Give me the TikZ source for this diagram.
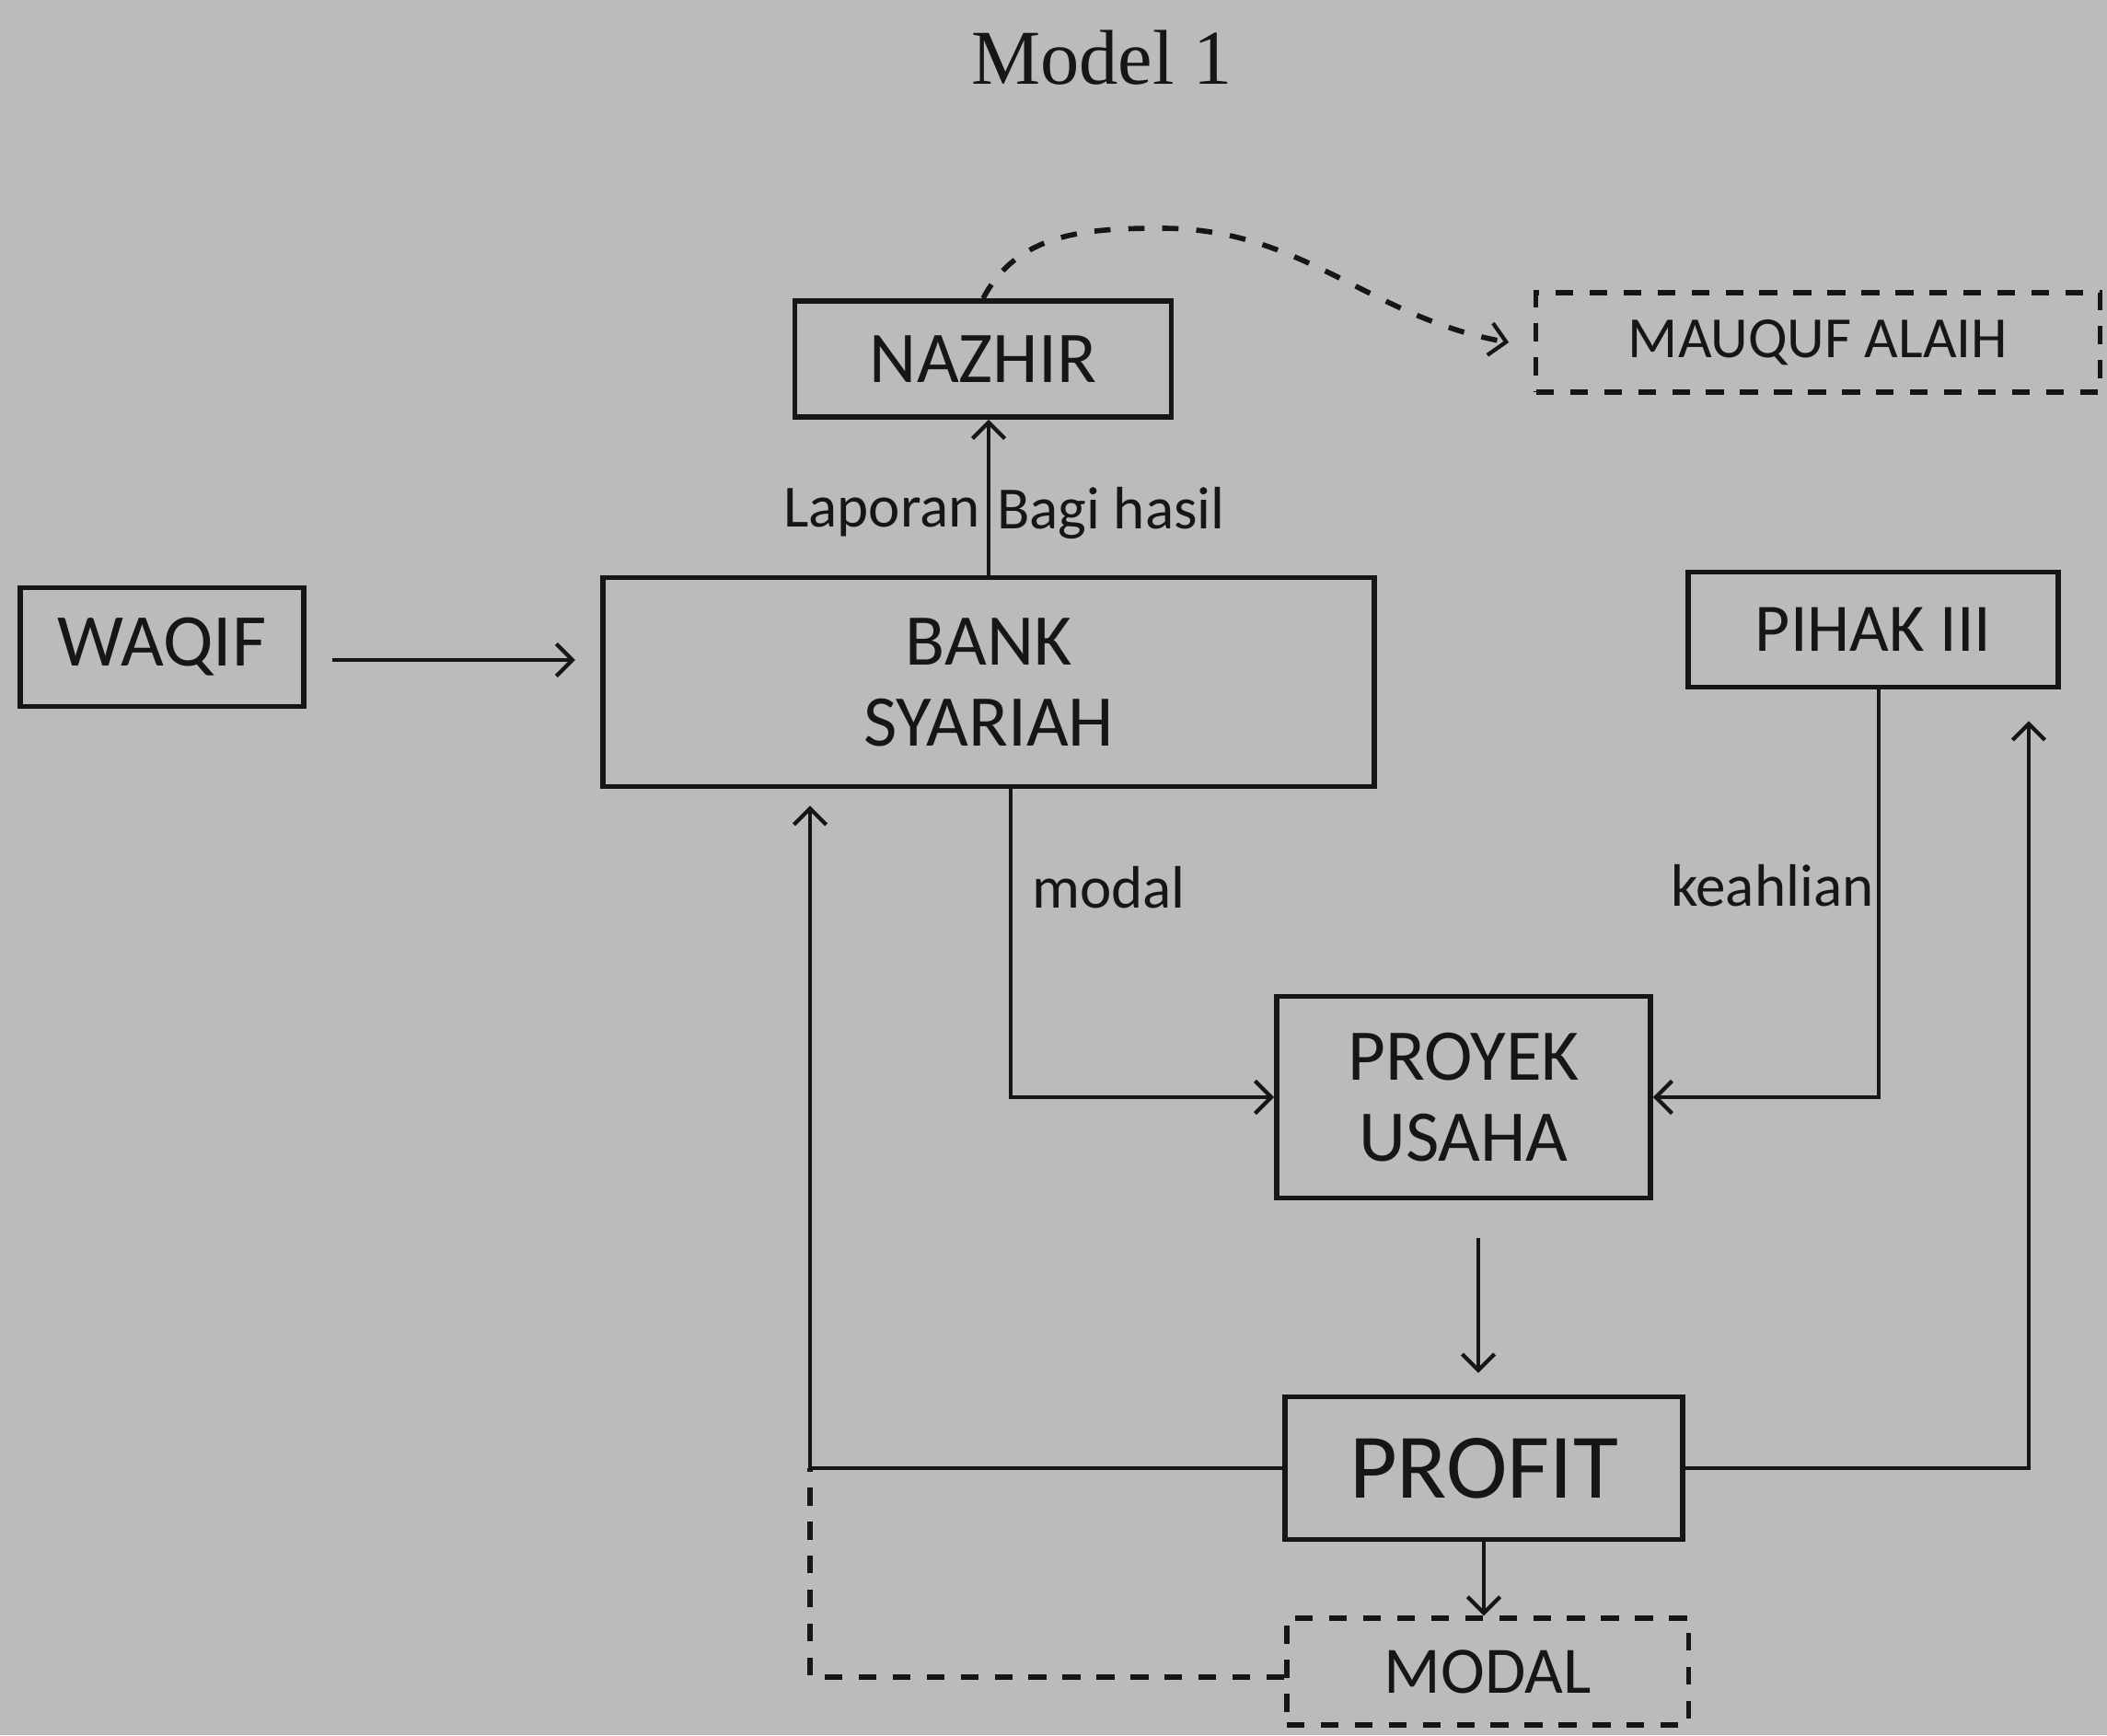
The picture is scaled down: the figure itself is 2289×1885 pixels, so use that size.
\documentclass[tikz,border=0pt]{standalone}
\usepackage{fontspec}
\setmainfont{Carlito}
\newfontfamily\titlefont{Liberation Serif}
\usetikzlibrary{arrows.meta}

\definecolor{paper}{RGB}{187,187,185}
\definecolor{ink}{RGB}{22,22,22}

\tikzset{
  box/.style={draw=ink, line width=1.6pt, inner sep=0pt, align=center, text=ink},
  dashbox/.style={box, line width=1.5pt, dash pattern=on 5.5pt off 5pt},
  flow/.style={draw=ink, line width=1.2pt, -{Straight Barb[length=5pt, width=10pt, line width=1.2pt]}},
  dashflow/.style={flow, line width=1.6pt, dash pattern=on 5pt off 5.5pt},
  lbl/.style={text=ink, inner sep=2pt, font=\fontsize{18.5}{20}\selectfont}
}

\begin{document}
\begin{tikzpicture}[x=0.01cm, y=-0.01cm]
    % Page
    \fill [paper] (0, 0) rectangle (2289, 1885);
    \useasboundingbox (0, 0) rectangle (2289, 1885);

    % Title
    \node (title) [text=ink, font=\titlefont\fontsize{24}{26}\selectfont] at (1197, 63) {Model 1};

    % Boxes
    \node (nazhir) [box, minimum width=4.09cm, minimum height=1.26cm, font=\fontsize{22.5}{25}\selectfont] at (1068, 390) {NAZHIR};
    \node (mauquf) [dashbox, minimum width=6.12cm, minimum height=1.08cm, font=\fontsize{18}{20}\selectfont] at (1975, 372) {MAUQUF ALAIH};
    \node (waqif) [box, minimum width=3.08cm, minimum height=1.29cm, font=\fontsize{23}{25}\selectfont] at (176, 703) {WAQIF};
    \node (bank) [box, minimum width=8.38cm, minimum height=2.27cm, font=\fontsize{22.5}{25}\selectfont] at (1074, 741) {BANK\\SYARIAH};
    \node (pihak) [box, minimum width=4.02cm, minimum height=1.25cm, font=\fontsize{21}{23}\selectfont] at (2035, 684) {PIHAK III};
    \node (proyek) [box, minimum width=4.06cm, minimum height=2.19cm, font=\fontsize{22.5}{25}\selectfont] at (1590, 1192) {PROYEK\\USAHA};
    \node (profit) [box, minimum width=4.32cm, minimum height=1.55cm, font=\fontsize{28.5}{30}\selectfont] at (1612, 1595) {PROFIT};
    \node (modal) [dashbox, minimum width=4.36cm, minimum height=1.16cm, font=\fontsize{20.5}{22}\selectfont] at (1616, 1816) {MODAL};

    % Waqif to bank
    \draw [flow, shorten <=0.28cm, shorten >=0.27cm] ([yshift=-0.14cm]waqif.east) -- ([yshift=-0.14cm]waqif.east -| bank.west);

    % Report and profit share to nazhir
    \draw [flow] (bank.north) -- (bank.north |- nazhir.south)
        node [lbl, pos=0.4, left] {Laporan}
        node [lbl, pos=0.4, right] {Bagi hasil};

    % Nazhir to mauquf alaih
    \coordinate (peak) at (1262, 248);
    \draw [dashflow] (nazhir.north) to [out=62, in=180] (peak)
        to [out=0, in=170] ([xshift=-0.27cm]mauquf.west);

    % Capital and skill into the project
    \draw [flow] ([xshift=0.24cm]bank.south) |- (proyek.west)
        node [lbl, pos=0.16, right, inner sep=6pt] {modal};
    \draw [flow] ([xshift=0.06cm]pihak.south) |- (proyek.east)
        node [lbl, pos=0.24, left, inner sep=1pt] {keahlian};

    % Project to profit
    \draw [flow, shorten <=0.41cm, shorten >=0.23cm] ([xshift=-0.06cm]profit.north |- proyek.south) -- ([xshift=-0.06cm]profit.north);

    % Profit back to bank and pihak III
    \coordinate (turn) at ([xshift=2.28cm]bank.south west |- profit.west);
    \draw [flow, shorten >=0.18cm] (profit.west) -- (turn) -- ([xshift=2.28cm]bank.south west);
    \draw [flow, shorten >=0.34cm] (profit.east) -| ([xshift=-0.35cm]pihak.south east);

    % Profit to modal
    \draw [flow] (profit.south) -- (profit.south |- modal.north);
    \draw [draw=ink, line width=1.5pt, dash pattern=on 5.5pt off 5pt] ([yshift=-0.06cm]modal.west) -| (turn);
\end{tikzpicture}
\end{document}
